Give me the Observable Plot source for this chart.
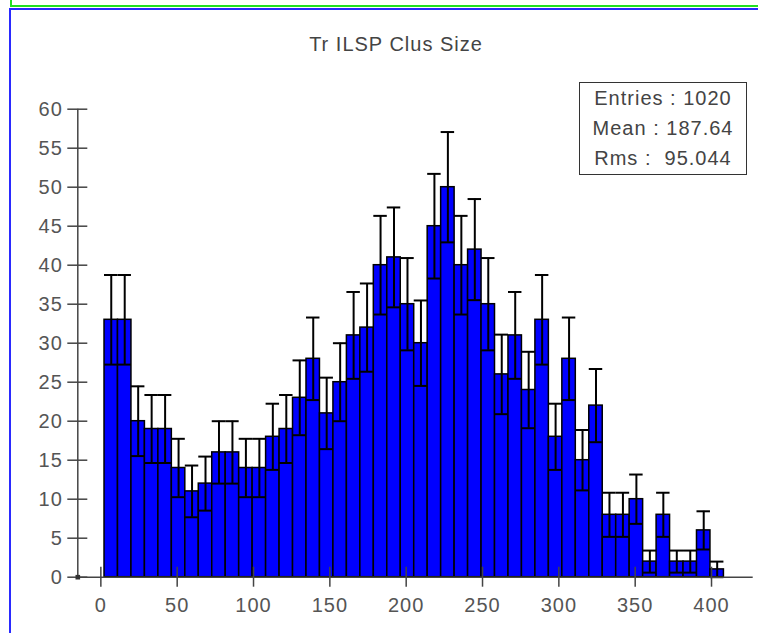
<!DOCTYPE html>
<html>
<head>
<meta charset="utf-8">
<script src="https://cdn.jsdelivr.net/npm/d3@7"></script>
<script src="https://cdn.jsdelivr.net/npm/@observablehq/plot@0.6"></script>
<style>
  body { margin: 0; background: #fff; }
  #wrap { position: relative; width: 758px; height: 633px; overflow: hidden; font-family: "Liberation Sans", Arial, sans-serif; background: #fff; }
  #chart { position: absolute; left: 0; top: 0; }
  .edge { position: absolute; }
  #title { position: absolute; top: 33px; left: 0; width: 792px; text-align: center; font-size: 20px; letter-spacing: 1px; color: #444; }
  #stats { position: absolute; left: 579px; top: 82px; width: 166px; height: 91px; border: 1.5px solid #333; color: #444; font-size: 20px; letter-spacing: 1px; }
  #stats div { height: 29px; line-height: 29px; text-align: center; margin-top: 1px; }
</style>
</head>
<body>
<div id="wrap">
  <div id="chart"></div>
  <div id="title"></div>
  <div id="stats"></div>
  <div class="edge" style="left:10px;top:5px;width:748px;height:2px;background:#22e022;"></div>
  <div class="edge" style="left:10px;top:0px;width:2px;height:7px;background:#22e022;"></div>
  <div class="edge" style="left:9px;top:8px;width:749px;height:2px;background:#2a2aff;"></div>
  <div class="edge" style="left:9px;top:8px;width:2px;height:625px;background:#2a2aff;"></div>
</div>
<script>
// ---- data ----
const title = "Tr ILSP Clus Size";
const counts = [33, 33, 20, 19, 19, 14, 11, 12, 16, 16,
                14, 14, 18, 19, 23, 28, 21, 25, 31, 32,
                40, 41, 35, 30, 45, 50, 40, 42, 35, 26,
                31, 24, 33, 18, 28, 15, 22, 8, 8, 10,
                2, 8, 2, 2, 6, 1];
const binLow = 2.4;
const binWidth = 8.82;
const xTicks = [0, 50, 100, 150, 200, 250, 300, 350, 400];
const yTicks = [0, 5, 10, 15, 20, 25, 30, 35, 40, 45, 50, 55, 60];
const xDomain = [-15.1, 427.3];
const yDomain = [0, 60];
const statNames = ["Entries", "Mean", "Rms"];
const statValues = ["1020", "187.64", " 95.044"];

// ---- build ----
const bins = counts.map((n, i) => ({
  x1: binLow + i * binWidth,
  x2: binLow + (i + 1) * binWidth,
  xc: binLow + (i + 0.5) * binWidth,
  n,
  lo: Math.max(0, n - Math.sqrt(n)),
  hi: n + Math.sqrt(n)
}));

const W = 758, H = 633, mL = 77.3, mR = 5.3, mT = 108.7, mB = 56.3;
const innerW = W - mL - mR, innerH = H - mT - mB;
const axisColor = "#444";

const chart = Plot.plot({
  width: W, height: H,
  marginLeft: mL, marginRight: mR, marginTop: mT, marginBottom: mB,
  x: { domain: xDomain },
  y: { domain: yDomain },
  style: { background: "transparent", fontFamily: "'Liberation Sans', Arial, sans-serif", letterSpacing: "1px", color: "#555" },
  marks: [
    Plot.rectY(bins, { x1: "x1", x2: "x2", y: "n", fill: "#0000ff", stroke: "#000", strokeWidth: 1.5 }),
    Plot.ruleX(bins, { x: "xc", y1: "lo", y2: "hi", stroke: "#000", strokeWidth: 2 }),
    Plot.ruleY(bins, { y: "hi", x1: "x1", x2: "x2", stroke: "#000", strokeWidth: 2 }),
    Plot.ruleY(bins, { y: "lo", x1: "x1", x2: "x2", stroke: "#000", strokeWidth: 2 }),
    Plot.ruleY([yDomain[0]], { stroke: axisColor, strokeWidth: 1.5 }),
    Plot.ruleX([xDomain[0]], { stroke: axisColor, strokeWidth: 1.5 }),
    Plot.ruleX(xTicks, { x: d => d, insetTop: innerH - 10, insetBottom: -10, stroke: axisColor, strokeWidth: 1.5 }),
    Plot.ruleY(yTicks, { y: d => d, insetLeft: -10, insetRight: innerW - 10, stroke: axisColor, strokeWidth: 1.5 }),
    Plot.axisX({ ticks: xTicks, tickSize: 0, tickPadding: 21, fontSize: 20, fill: "#555" }),
    Plot.axisY({ ticks: yTicks, tickSize: 0, tickPadding: 15, fontSize: 20, fill: "#555", label: null }),
    Plot.dot([{ x: xDomain[0], y: yDomain[0] }], { x: "x", y: "y", symbol: "square", r: 2.6, fill: "#333" })
  ]
});
document.getElementById("chart").appendChild(chart);
document.getElementById("title").textContent = title;
const st = document.getElementById("stats");
statNames.forEach((name, i) => {
  const d = document.createElement("div");
  d.textContent = name + " : " + statValues[i];
  d.style.whiteSpace = "pre";
  st.appendChild(d);
});
</script>
</body>
</html>
